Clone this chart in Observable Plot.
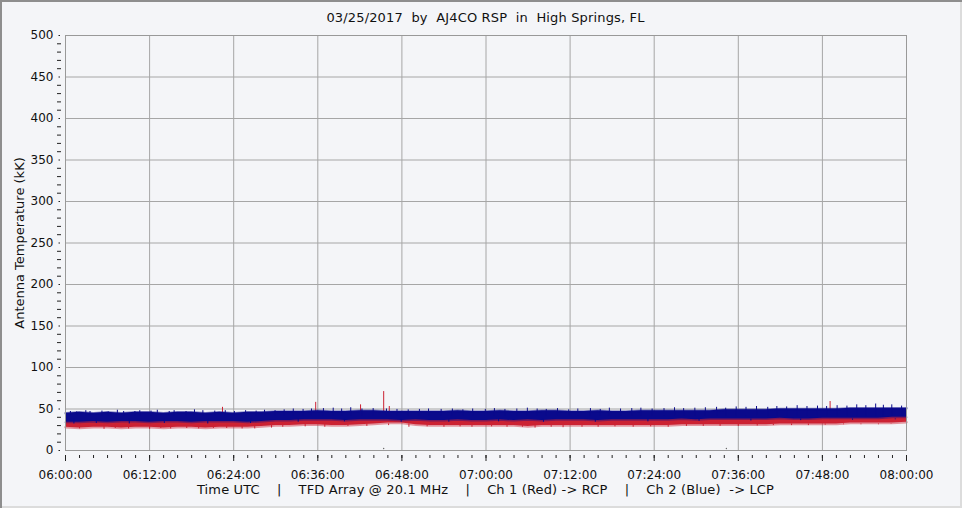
<!DOCTYPE html>
<html><head><meta charset="utf-8">
<script src="https://cdn.jsdelivr.net/npm/d3@7"></script>
<script src="https://cdn.jsdelivr.net/npm/@observablehq/plot@0.6"></script>
<style>
html,body{margin:0;padding:0;background:#fff;}
#wrap{position:relative;width:962px;height:508px;background:#f4f5f8;box-shadow:inset 2px 2px 0 #8e8e8e, inset -2px -2px 0 #dcdcdc;font-family:"DejaVu Sans",Verdana,sans-serif;color:#111;overflow:hidden}
#title{position:absolute;left:65px;width:841px;top:10px;line-height:16px;font-size:13px;letter-spacing:0.15px;text-align:center;white-space:pre}
#chart{position:absolute;left:0;top:30px;line-height:0}
#caption{position:absolute;left:65px;width:841px;top:482px;line-height:16px;font-size:13px;letter-spacing:0.15px;text-align:center;white-space:pre}
</style></head>
<body><div id="wrap"><div id="title"></div><div id="chart"></div><div id="caption"></div></div>
<script>
const titleText = "03/25/2017  by  AJ4CO RSP  in  High Springs, FL";
const captionText = "Time UTC    |    TFD Array @ 20.1 MHz    |    Ch 1 (Red) -> RCP    |    Ch 2 (Blue)  -> LCP";
const yLabel = "Antenna Temperature (kK)";
const dateStr = "2017-03-25";

const xTickLabels = ["06:00:00","06:12:00","06:24:00","06:36:00","06:48:00","07:00:00","07:12:00","07:24:00","07:36:00","07:48:00","08:00:00"];
const yTicks = [0,50,100,150,200,250,300,350,400,450,500];

// minutes after 06:00 UTC
const minutes = [0,2,4,6,8,10,12,14,16,18,20,22,24,26,28,30,32,34,36,38,40,42,44,46,48,50,52,54,56,58,60,62,64,66,68,70,72,74,76,78,80,82,84,86,88,90,92,94,96,98,100,102,104,106,108,110,112,114,116,118,120];

// Ch 2 (Blue, LCP) envelope
const blueHi = [45,46,45,46,45,46,46,45,46,46,45,46,45,46,46,47,
  47,47,48,47,47,48,48,47,47,47,47,47,48,47,47,
  48,47,47,48,48,47,47,48,47,47,48,48,48,48,48,
  48,49,49,49,49,50,50,50,50,50,51,51,51,51,51];
const blueLo = [34,34,35,34,35,35,34,35,35,34,35,35,35,34,35,36,
  36,37,37,37,36,37,37,37,36,37,36,36,37,36,36,
  37,36,37,36,37,37,37,36,37,37,37,37,37,38,37,
  38,38,38,38,38,39,38,38,39,39,39,39,39,40,40];
// Ch 1 (Red, RCP) envelope
const redHi = [38,39,39,38,39,39,38,39,39,38,39,39,39,38,39,40,
  40,41,41,41,41,42,42,41,40,41,40,40,41,40,40,
  41,40,41,40,41,41,41,40,41,41,41,41,41,42,41,
  42,42,42,42,42,43,42,42,43,43,43,43,43,44,44];
const redLo = [28,27,28,28,27,28,28,27,28,28,27,28,28,28,29,30,
  30,31,31,30,30,31,32,33,33,31,30,30,30,30,30,
  30,30,29,30,30,30,30,30,30,30,30,30,30,31,31,
  31,31,31,31,31,32,32,32,32,32,33,33,33,33,34];

// noise spikes: [minute, value]
const blueSpikes = [[0.7,47],[1.6,46.5],[2.9,48],[3.5,47],[5.2,47.5],[6.1,46.5],[7.4,48.5],[8.3,47],[9.9,47],[10.6,48],[12.2,47.5],[13.1,48.5],[14.8,47],[15.5,48],[17.2,47],[18.4,49],[19.6,48],[21.3,47.5],[22.8,48],[24.1,47],[25.7,48],[27.2,47.5],[28.4,48.5],[29.9,48],[31.2,49],[32.5,50],[33.9,49.5],[35.1,50],[36.8,50.5],[38.2,51],[39.4,50],[40.7,51.5],[42.3,50],[43.9,50.5],[45.8,50],[47.3,49.5],[48.9,49],[50.5,49.5],[51.8,50],[53.6,49.5],[55.2,50],[56.7,49],[58.1,50],[59.9,49.5],[61.2,50.5],[62.7,49.5],[64.4,50],[65.9,51],[67.3,50],[68.6,49.5],[70.2,50.5],[71.8,49],[73.1,50],[74.9,50.5],[76.3,49.5],[77.6,51],[79.2,50],[80.8,50.5],[82.1,51],[83.7,50],[85.4,50.5],[86.9,51.5],[88.2,50.5],[89.8,51],[91.3,51.5],[92.9,52],[94.2,51],[95.7,52.5],[97.1,52],[98.6,53],[100.2,52],[101.5,53],[102.9,52.5],[104.4,54],[105.8,53],[107.3,53.5],[108.6,53],[110.1,54],[111.5,53.5],[112.9,55],[114.2,54],[115.6,56],[116.7,54.5],[117.9,55],[119.3,53.5]];
const blueDips = [[1.2,32],[4.4,32.5],[9.1,32],[14.1,32.5],[20.3,32],[26.4,32.5],[33.2,34],[39.8,34.5],[47.9,34],[54.7,34],[61.8,34.5],[68.2,34],[75.6,34],[83.1,34.5],[90.4,35],[97.8,35.5],[104.9,36],[112.3,36.5],[118.4,37]];
const redSpikes = [[22.4,52],[35.7,58],[42.1,55],[45.4,71],[46.2,53],[109.1,59]];
const redDips = [[2,26],[5.5,25.5],[7.1,26.5],[9,26],[12,25.5],[13.6,26.5],[15,26],[17.3,26.5],[19,26],[21.1,26.5],[23,26.5],[25.2,26],[27,26],[29.4,27],[31,28],[34.2,28.5],[37,28],[40.3,29],[43,29],[46.1,30],[49,28],[51.6,28.5],[54,28],[56.3,28.5],[58,28],[60.8,28.5],[63,28],[65.2,28],[67,27],[69.3,28],[71,27.5],[73.7,28],[76,28],[78.4,28.5],[81,28],[83.5,28.5],[86,28],[88.6,29],[91,29],[93.4,29],[96,29],[98.7,29.5],[101,30],[103.6,30],[106,30],[108.4,30.5],[111,31],[113.5,31],[116,31],[117.8,31.5],[119,32]];
// isolated low samples
const lowPoints = [[45.4,2.4],[94.3,2.4]];

const RED = "#cc2233", BLUE = "#0a0a8c", GRID = "#a6a6a6";

const t0 = Date.UTC(2017,2,25,6,0);
const toDate = m => new Date(t0 + m*60000);
const rows = minutes.map((m,i) => ({t: toDate(m), bHi: blueHi[i], bLo: blueLo[i], rHi: redHi[i], rLo: redLo[i]}));
const spk = a => a.map(([m,v]) => ({t: toDate(m), v}));
const parseT = d3.utcParse("%Y-%m-%d %H:%M:%S");
const xMajor = xTickLabels.map(s => parseT(dateStr + " " + s));
const xStart = xMajor[0], xEnd = xMajor[xMajor.length-1];
const xMinor = d3.utcMinute.every(2).range(xStart, new Date(+xEnd + 1));
const yMinor = d3.range(10, 500, 10).filter(v => v % 50 !== 0);
const fmt = d3.utcFormat("%H:%M:%S");

document.getElementById("title").textContent = titleText;
document.getElementById("caption").textContent = captionText;

const chart = Plot.plot({
  width: 962, height: 452,
  marginLeft: 65, marginRight: 56, marginTop: 5, marginBottom: 32,
  style: {background: "transparent", fontFamily: "'DejaVu Sans', Verdana, sans-serif", fontSize: "12px", color: "#111", overflow: "visible"},
  x: {type: "utc", domain: [xStart, xEnd]},
  y: {domain: [0, 500]},
  marks: [
    Plot.gridX(xMajor, {stroke: GRID, strokeOpacity: 1}),
    Plot.gridY(yTicks, {stroke: GRID, strokeOpacity: 1}),
    Plot.areaY(rows, {x: "t", y1: "rLo", y2: "rHi", fill: RED}),
    Plot.lineY(rows, {x: "t", y: "rLo", stroke: RED, strokeWidth: 2.5, strokeOpacity: 0.45}),
    Plot.ruleX(spk(redSpikes), {x: "t", y1: 36, y2: "v", stroke: RED, strokeWidth: 1}),
    Plot.ruleX(spk(redDips), {x: "t", y1: 32, y2: "v", stroke: RED, strokeWidth: 1}),
    Plot.dot(spk(lowPoints), {x: "t", y: "v", r: 0.7, fill: "#666", stroke: null}),
    Plot.areaY(rows, {x: "t", y1: "bLo", y2: "bHi", fill: BLUE}),
    Plot.lineY(rows, {x: "t", y: "bHi", stroke: BLUE, strokeWidth: 2.5, strokeOpacity: 0.45}),
    Plot.lineY(rows, {x: "t", y: "bLo", stroke: BLUE, strokeWidth: 2, strokeOpacity: 0.4}),
    Plot.ruleX(spk(blueSpikes), {x: "t", y1: 42, y2: "v", stroke: BLUE, strokeWidth: 1}),
    Plot.ruleX(spk(blueDips), {x: "t", y1: 38, y2: "v", stroke: BLUE, strokeWidth: 1}),
    Plot.frame({stroke: "#999"}),
    // x axis: minor ticks, major ticks, labels
    Plot.axisX({ticks: xMinor, tickSize: 3, dy: 5, fill: "none", stroke: "#222"}),
    Plot.axisX({ticks: xMajor, tickSize: 6, dy: 5, fill: "none", stroke: "#222"}),
    Plot.axisX({ticks: xMajor, tickSize: 0, tickPadding: 20, tickFormat: d => xTickLabels[xMajor.findIndex(x => +x === +d)] ?? fmt(d), label: null, fill: "#111"}),
    // y axis: minor dashes, major dots, labels
    Plot.axisY({ticks: yMinor, tickSize: 4, dx: -4, fill: "none", stroke: "#222"}),
    Plot.axisY({ticks: yTicks, tickSize: 1.5, dx: -5, fill: "none", stroke: "#222"}),
    Plot.axisY({ticks: yTicks, tickSize: 0, tickPadding: 12, label: null, fill: "#111"}),
    Plot.text([yLabel], {frameAnchor: "left", textAnchor: "middle", rotate: -90, dx: -46, fontSize: 13, fill: "#111"})
  ]
});
document.getElementById("chart").appendChild(chart);
</script>
</body></html>
